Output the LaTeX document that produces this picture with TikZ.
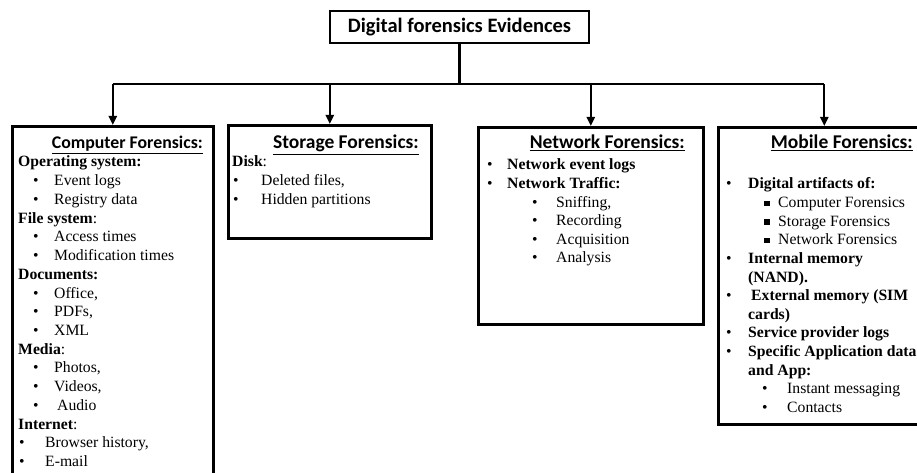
\documentclass[tikz,border=0pt]{standalone}
\usepackage{fontspec}
\setmainfont{Liberation Serif}
\newfontfamily\calib{Carlito}
\usetikzlibrary{arrows.meta}
\newcommand{\bul}[1]{\makebox[#1][l]{\textbullet}}
\newcommand{\sq}[1]{\makebox[#1][l]{\rule[1.5pt]{5.5pt}{5.5pt}}}
\tikzset{
  box/.style={draw, line width=2.6pt, anchor=north west, inner sep=0pt, fill=white},
  conn/.style={line width=2.2pt},
  arr/.style={line width=2.2pt, -{Triangle[length=9pt,width=8pt]}},
  tx/.style={anchor=base west, inner sep=0pt, font=\fontsize{15.7}{18}\selectfont},
  ttl/.style={anchor=base east, inner sep=0pt, font=\calib\bfseries\fontsize{19.5}{21}\selectfont},
}
\begin{document}
\begin{tikzpicture}[x=1pt, y=-1pt]
\useasboundingbox (0,0) rectangle (917,473);
\clip (0,0) rectangle (917,473);
\fill[white] (0,0) rectangle (917,473);

% top box
\node[draw, line width=2.6pt, minimum width=259pt, minimum height=32pt, inner sep=0pt,
      font=\calib\bfseries\fontsize{20.5}{22}\selectfont] (top) at (459.5,27) {Digital forensics Evidences};

% boxes
\node[box, minimum width=201pt, minimum height=360pt] (comp) at (11,125) {};
\node[box, minimum width=203pt, minimum height=113pt] (stor) at (227,124) {};
\node[box, minimum width=225pt, minimum height=197pt] (netw) at (477,126) {};
\node[box, minimum width=212pt, minimum height=297pt] (mobi) at (717,126) {};

% connectors
\coordinate (bus) at (459.5,84);
\draw[conn] (top.south) -- (bus);
\draw[conn] (bus -| comp.north) -- (bus -| mobi.north);
\draw[arr] (bus -| comp.north) -- (comp.north);
\draw[arr] (bus -| stor.north) -- (stor.north);
\draw[arr] (bus -| netw.north) -- (netw.north);
\draw[arr] (bus -| mobi.north) -- (mobi.north);

% titles
\node[ttl, font=\calib\bfseries\fontsize{17.8}{20}\selectfont] (ct) at (203,149) {\underline{Computer Forensics:}};
\node[ttl] (st) at (419,149) {\underline{Storage Forensics:}};
\node[ttl] (nt) at (685,149) {\underline{Network Forensics:}};
\node[ttl] (mt) at (913,149) {\underline{Mobile Forensics:}};

% computer forensics
\node[tx] (c0) at (18,167) {\textbf{Operating system:}};
\node[tx] (c1) at (33,185.7) {\bul{21pt}Event logs};
\node[tx] (c2) at (33,204.4) {\bul{21pt}Registry data};
\node[tx] (c3) at (18,223.2) {\textbf{File system}:};
\node[tx] (c4) at (33,241.9) {\bul{21pt}Access times};
\node[tx] (c5) at (33,260.6) {\bul{21pt}Modification times};
\node[tx] (c6) at (18,279.3) {\textbf{Documents:}};
\node[tx] (c7) at (33,298) {\bul{21pt}Office,};
\node[tx] (c8) at (33,316.8) {\bul{21pt}PDFs,};
\node[tx] (c9) at (33,335.5) {\bul{21pt}XML};
\node[tx] (c10) at (18,354.2) {\textbf{Media}:};
\node[tx] (c11) at (33,372.9) {\bul{21pt}Photos,};
\node[tx] (c12) at (33,391.6) {\bul{21pt}Videos,};
\node[tx] (c13) at (33,410.4) {\bul{24pt}Audio};
\node[tx] (c14) at (18,429.1) {\textbf{Internet}:};
\node[tx] (c15) at (19,447.8) {\bul{26pt}Browser history,};
\node[tx] (c16) at (19,466.5) {\bul{26pt}E-mail};

% storage forensics
\node[tx] (s0) at (232,167) {\textbf{Disk}:};
\node[tx] (s1) at (233,185.7) {\bul{28pt}Deleted files,};
\node[tx] (s2) at (233,204.4) {\bul{28pt}Hidden partitions};

% network forensics
\node[tx] (n0) at (487,170) {\bul{20pt}\textbf{Network event logs}};
\node[tx] (n1) at (487,188.5) {\bul{20pt}\textbf{Network Traffic:}};
\node[tx] (n2) at (532,207) {\bul{24pt}Sniffing,};
\node[tx] (n3) at (532,225.5) {\bul{24pt}Recording};
\node[tx] (n4) at (532,244) {\bul{24pt}Acquisition};
\node[tx] (n5) at (532,262.5) {\bul{24pt}Analysis};

% mobile forensics
\node[tx] (m0) at (726,189) {\bul{22pt}\textbf{Digital artifacts of:}};
\node[tx] (m1) at (764,207.6) {\sq{14pt}Computer Forensics};
\node[tx] (m2) at (764,226.2) {\sq{14pt}Storage Forensics};
\node[tx] (m3) at (764,244.8) {\sq{14pt}Network Forensics};
\node[tx] (m4) at (726,263.4) {\bul{22pt}\textbf{Internal memory}};
\node[tx] (m5) at (748,282) {\textbf{(NAND).}};
\node[tx] (m6) at (726,300.6) {\bul{25pt}\textbf{External memory (SIM}};
\node[tx] (m7) at (748,319.2) {\textbf{cards)}};
\node[tx] (m8) at (726,337.8) {\bul{22pt}\textbf{Service provider logs}};
\node[tx] (m9) at (726,356.4) {\bul{22pt}\textbf{Specific Application data}};
\node[tx] (m10) at (748,375) {\textbf{and App:}};
\node[tx] (m11) at (762,393.6) {\bul{25pt}Instant messaging};
\node[tx] (m12) at (762,412.2) {\bul{25pt}Contacts};
\end{tikzpicture}
\end{document}
